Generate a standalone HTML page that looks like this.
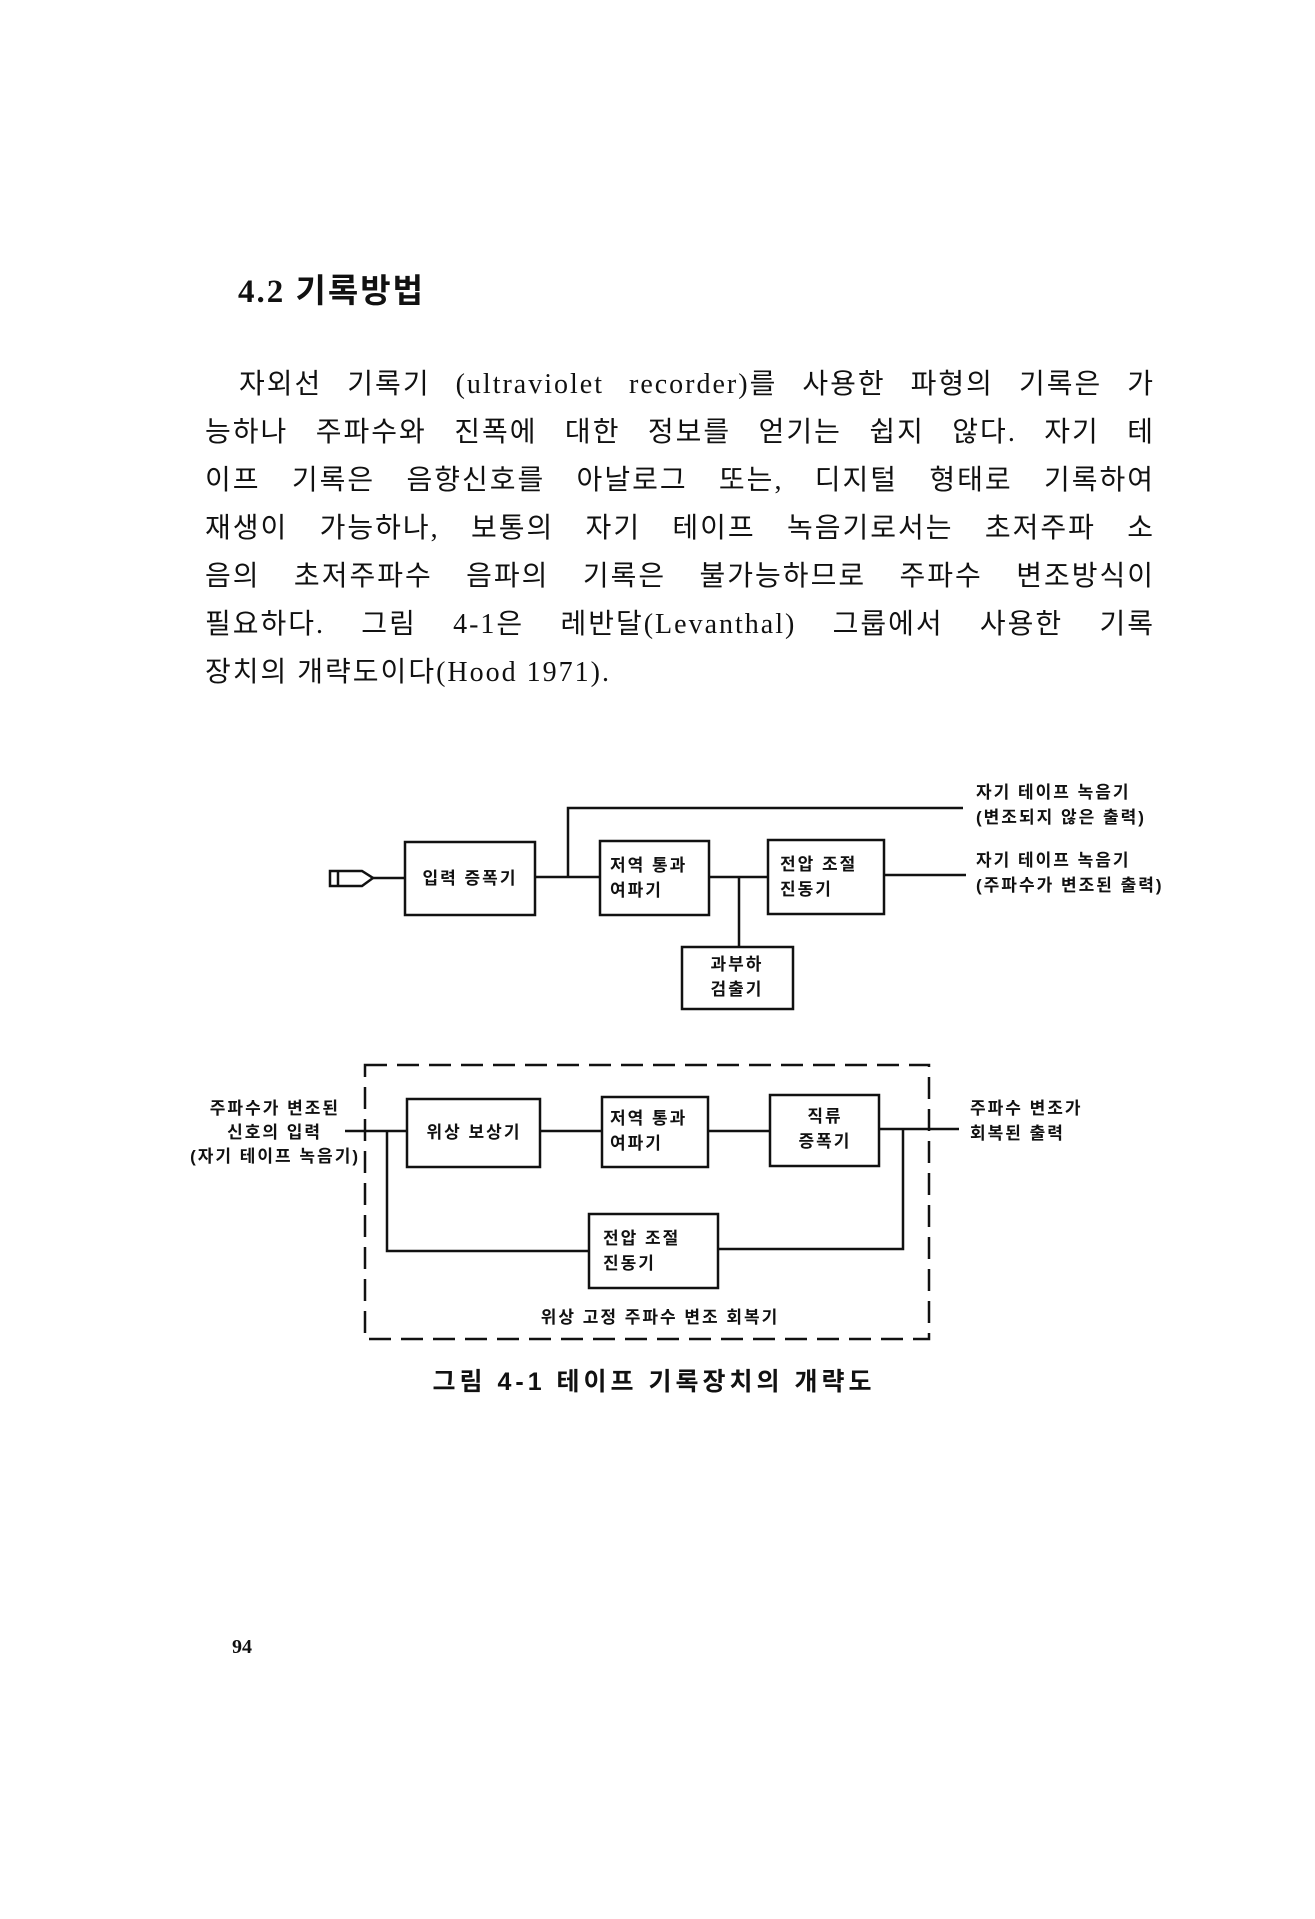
<!DOCTYPE html>
<html><head><meta charset="utf-8">
<style>
html,body{margin:0;padding:0;background:#fff;}
body{width:1315px;height:1919px;position:relative;overflow:hidden;color:#111;}
.h{position:absolute;left:238px;top:264px;font:700 33px "Liberation Serif","Noto Sans CJK KR",serif;letter-spacing:2px;}
.l{position:absolute;left:205px;width:950px;font:400 28px "Liberation Serif","Noto Sans CJK KR",serif;letter-spacing:2px;text-align:justify;text-align-last:justify;line-height:30px;white-space:nowrap;}
.pn{position:absolute;left:232px;top:1636px;font:700 20px "Liberation Serif",serif;}
</style></head><body>
<div class="h">4.2 기록방법</div>
<div class="l" style="top:370px;left:239px;width:916px">자외선 기록기 (ultraviolet recorder)를 사용한 파형의 기록은 가</div>
<div class="l" style="top:418px">능하나 주파수와 진폭에 대한 정보를 얻기는 쉽지 않다. 자기 테</div>
<div class="l" style="top:466px">이프 기록은 음향신호를 아날로그 또는, 디지털 형태로 기록하여</div>
<div class="l" style="top:514px">재생이 가능하나, 보통의 자기 테이프 녹음기로서는 초저주파 소</div>
<div class="l" style="top:562px">음의 초저주파수 음파의 기록은 불가능하므로 주파수 변조방식이</div>
<div class="l" style="top:610px">필요하다. 그림 4-1은 레반달(Levanthal) 그룹에서 사용한 기록</div>
<div class="l" style="top:658px;text-align-last:left;text-align:left">장치의 개략도이다(Hood 1971).</div>
<svg style="position:absolute;left:0;top:0" width="1315" height="1919" xmlns="http://www.w3.org/2000/svg">
<g fill="none" stroke="#111" stroke-width="2.5">
<path d="M330 871 H362 L373 878 L362 886 H330 Z M338 871 V886"/>
<line x1="373" y1="878" x2="405" y2="878"/>
<rect x="405" y="842" width="130" height="73"/>
<line x1="535" y1="877" x2="600" y2="877"/>
<polyline points="568,877 568,808 963,808"/>
<rect x="600" y="841" width="109" height="74"/>
<line x1="709" y1="877" x2="768" y2="877"/>
<rect x="768" y="840" width="116" height="74"/>
<line x1="884" y1="875" x2="966" y2="875"/>
<line x1="739" y1="877" x2="739" y2="947"/>
<rect x="682" y="947" width="111" height="62"/>
<rect x="365" y="1065" width="564" height="274" stroke-dasharray="22,10"/>
<line x1="345" y1="1131" x2="407" y2="1131"/>
<rect x="407" y="1099" width="133" height="68"/>
<line x1="540" y1="1131" x2="602" y2="1131"/>
<rect x="602" y="1097" width="106" height="70"/>
<line x1="708" y1="1131" x2="770" y2="1131"/>
<rect x="770" y="1095" width="109" height="71"/>
<line x1="879" y1="1129" x2="959" y2="1129"/>
<polyline points="387,1131 387,1251 589,1251"/>
<polyline points="903,1129 903,1249 718,1249"/>
<rect x="589" y="1214" width="129" height="74"/>
</g>
<g font-family="Liberation Sans, Noto Sans CJK KR, sans-serif" font-weight="700" font-size="17" fill="#111" letter-spacing="2">
<text x="470" y="884" text-anchor="middle">입력 증폭기</text>
<text x="610" y="871">저역 통과</text>
<text x="610" y="896">여파기</text>
<text x="780" y="870">전압 조절</text>
<text x="780" y="895">진동기</text>
<text x="737" y="970" text-anchor="middle">과부하</text>
<text x="737" y="995" text-anchor="middle">검출기</text>
<text x="976" y="798">자기 테이프 녹음기</text>
<text x="976" y="823">(변조되지 않은 출력)</text>
<text x="976" y="866">자기 테이프 녹음기</text>
<text x="976" y="891">(주파수가 변조된 출력)</text>
<text x="474" y="1138" text-anchor="middle">위상 보상기</text>
<text x="610" y="1124">저역 통과</text>
<text x="610" y="1149">여파기</text>
<text x="825" y="1122" text-anchor="middle">직류</text>
<text x="825" y="1147" text-anchor="middle">증폭기</text>
<text x="603" y="1244">전압 조절</text>
<text x="603" y="1269">진동기</text>
<text x="660" y="1323" text-anchor="middle">위상 고정 주파수 변조 회복기</text>
<text x="340" y="1114" text-anchor="end">주파수가 변조된</text>
<text x="322" y="1138" text-anchor="end">신호의 입력</text>
<text x="360" y="1162" text-anchor="end">(자기 테이프 녹음기)</text>
<text x="970" y="1114">주파수 변조가</text>
<text x="970" y="1139">회복된 출력</text>
</g>
<text x="654" y="1390" text-anchor="middle" font-family="Liberation Sans, Noto Sans CJK KR, sans-serif" font-weight="700" font-size="25" letter-spacing="4" fill="#111">그림 4-1  테이프 기록장치의 개략도</text>
</svg>
<div class="pn">94</div>
</body></html>
